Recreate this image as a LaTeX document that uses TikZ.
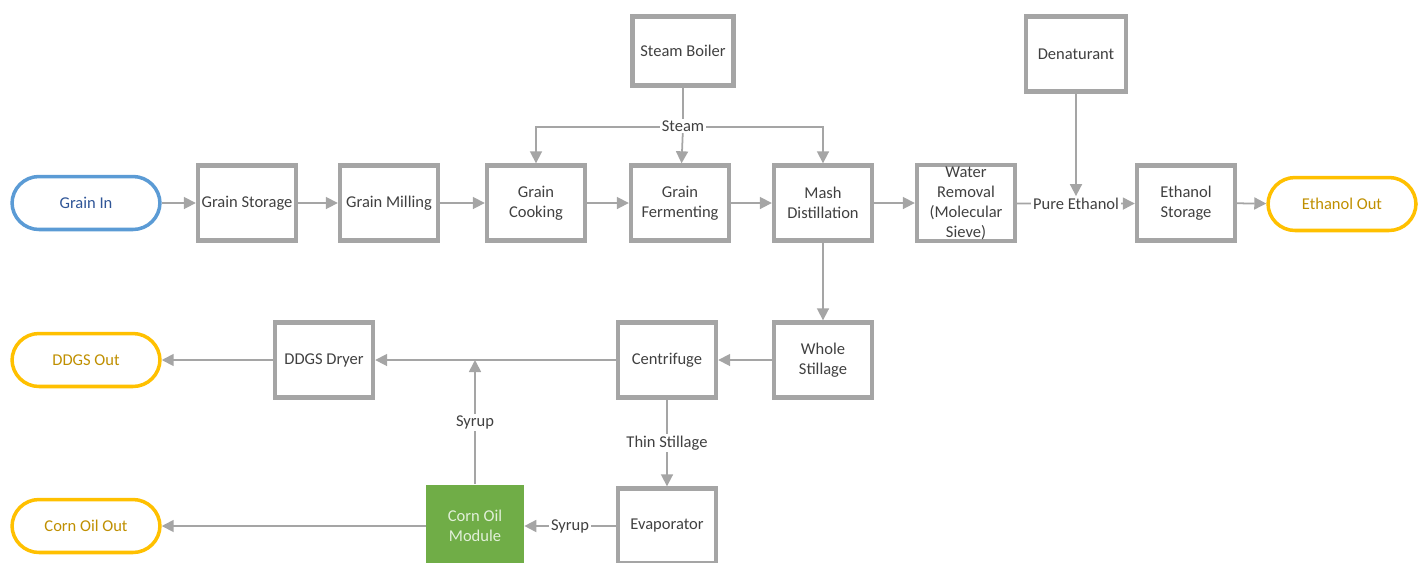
\documentclass[tikz,border=0pt]{standalone}
\usepackage{fontspec}
\setmainfont{Carlito}
\usetikzlibrary{arrows.meta}

\definecolor{boxgray}{HTML}{A5A5A5}
\definecolor{txtgray}{HTML}{404040}
\definecolor{inblue}{HTML}{5B9BD5}
\definecolor{intext}{HTML}{2F5597}
\definecolor{outgold}{HTML}{FFC000}
\definecolor{outtext}{HTML}{BF8F00}
\definecolor{oilgreen}{HTML}{70AD47}
\definecolor{oiltext}{HTML}{E2F0D9}

\tikzstyle{fonte} = [font=\fontsize{9.4}{11.4}\selectfont]
\tikzstyle{unit} = [fonte, draw=boxgray, line width=2.5pt, minimum width=1.96cm, minimum height=1.5cm, align=center, text=txtgray, inner sep=1pt]
\tikzstyle{term} = [fonte, rounded corners=0.54cm, line width=2pt, minimum width=2.96cm, minimum height=1.06cm, align=center]
\tikzstyle{flow} = [draw=boxgray, line width=1pt, -{Triangle[length=0.24cm,width=0.24cm]}]
\tikzstyle{lbl} = [fonte, fill=white, inner sep=1pt, text=txtgray]

\begin{document}
\begin{tikzpicture}[x=0.02cm, y=-0.02cm]
    \useasboundingbox (0,0) rectangle (1424,562);

    % inputs and outputs
    \node at (86,203) [term, draw=inblue, text=intext] (grainin) {Grain In};
    \node at (1342,204) [term, draw=outgold, text=outtext] (ethout) {Ethanol Out};
    \node at (86,360) [term, draw=outgold, text=outtext] (ddgsout) {DDGS Out};
    \node at (86,526) [term, draw=outgold, text=outtext] (oilout) {Corn Oil Out};

    % top row
    \node at (247,203) [unit] (storage) {Grain Storage};
    \node at (389,203) [unit] (milling) {Grain Milling};
    \node at (536,203) [unit] (cooking) {Grain\\Cooking};
    \node at (680,203) [unit] (ferment) {Grain\\Fermenting};
    \node at (823,203) [unit] (mash) {Mash\\Distillation};
    \node at (966,203) [unit] (water) {Water\\Removal\\(Molecular\\Sieve)};
    \node at (1186,203) [unit] (ethstor) {Ethanol\\Storage};
    \node at (683,51) [unit, minimum width=2.02cm, minimum height=1.38cm] (boiler) {Steam Boiler};
    \node at (1076,54) [unit, minimum width=2cm] (denat) {Denaturant};

    % lower rows
    \node at (823,360) [unit] (whole) {Whole\\Stillage};
    \node at (667,360) [unit] (centri) {Centrifuge};
    \node at (324,360) [unit] (dryer) {DDGS Dryer};
    \node at (667,526) [unit] (evap) {Evaporator};
    \node at (475,526) [fonte, fill=oilgreen, text=oiltext, minimum width=1.96cm, minimum height=1.66cm, align=center] (oilmod) {Corn Oil\\Module};

    % main flow
    \draw [flow] (grainin) -- (storage);
    \draw [flow] (storage) -- (milling);
    \draw [flow] (milling) -- (cooking);
    \draw [flow] (cooking) -- (ferment);
    \draw [flow] (ferment) -- (mash);
    \draw [flow] (mash) -- (water);
    \draw [flow] (ethstor) -- (ethout);

    % steam
    \coordinate (stm) at (683,127);
    \draw [draw=boxgray, line width=1pt] (boiler) -- (stm);
    \draw [flow] (stm) -| (cooking);
    \draw [flow] (stm) -| (mash);
    \draw [flow] (stm) -- (ferment);
    \node at (683,126) [lbl] (steamlbl) {Steam};

    % ethanol
    \node at (1076,204) [lbl] (purelbl) {Pure Ethanol};
    \draw [draw=boxgray, line width=1pt] (water) -- (purelbl);
    \draw [flow] (purelbl) -- (ethstor);
    \draw [flow] (denat) -- (purelbl);

    % stillage
    \draw [flow] (mash) -- (whole);
    \draw [flow] (whole) -- (centri);
    \draw [flow] (centri) -- (dryer);
    \draw [flow] (dryer) -- (ddgsout);
    \draw [flow] (centri) -- (evap) node [lbl, pos=0.5] (thinlbl) {Thin Stillage};

    % syrup and corn oil
    \coordinate (join) at (475,360);
    \draw [flow] (evap) -- (oilmod) node [lbl, pos=0.5] (syruplbl) {Syrup};
    \draw [flow] (oilmod) -- (join) node [lbl, pos=0.5] (syrupup) {Syrup};
    \draw [flow] (oilmod) -- (oilout);

\end{tikzpicture}
\end{document}
